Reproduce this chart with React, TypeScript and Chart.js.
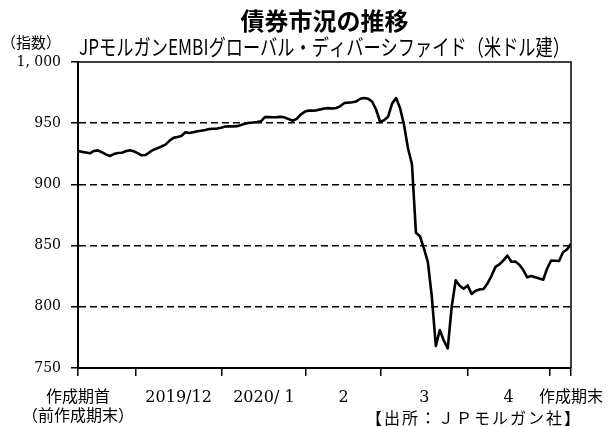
import React, { useEffect, useRef } from 'react';
import { Chart, registerables } from 'chart.js';

Chart.register(...registerables);

const titleText = '債券市況の推移';
const subtitleText = 'JPモルガンEMBIグローバル・ディバーシファイド（米ドル建）';
const unitText = '（指数）';
const sourceText = '【出所：ＪＰモルガン社】';

// daily index values (business days), from start of period to end
const indexValues = [
  927.2, 926.6, 926.1, 925.4, 927.3, 927.8, 926.3, 924.5, 923.2, 924.8,
  925.7, 925.9, 927.0, 927.9, 927.1, 925.6, 923.8, 924.0, 926.3, 928.3,
  929.6, 931.0, 932.5, 935.6, 938.0, 938.7, 939.6, 942.6, 942.0, 942.6,
  943.4, 943.9, 944.4, 945.2, 945.5, 945.6, 946.3, 947.3, 947.4, 947.4,
  947.6, 948.6, 949.6, 950.3, 950.6, 951.0, 951.5, 955.0, 955.1, 954.9,
  955.0, 955.2, 954.6, 953.3, 952.0, 953.5, 957.0, 959.3, 960.4, 960.3,
  960.5, 961.3, 962.0, 962.3, 962.0, 962.4, 964.0, 966.5, 966.8, 967.1,
  967.8, 970.0, 970.6, 970.0, 967.5, 961.0, 951.0, 952.5, 955.3, 966.0,
  970.5, 962.4, 948.6, 929.5, 916.5, 860.4, 857.7, 847.8, 836.5, 808.0,
  768.0, 781.0, 772.5, 766.0, 800.3, 821.7, 817.2, 814.8, 817.5, 810.5,
  813.2, 814.2, 814.5, 819.1, 825.3, 832.6, 834.7, 838.0, 841.8, 836.8,
  837.0, 834.4, 830.0, 824.1, 825.1, 824.1, 823.1, 822.1, 831.3, 837.8,
  837.6, 837.4, 844.6, 846.9, 851.5,
];

// x-axis: month boundaries (tick marks) and label positions, in business-day index units
const monthBoundaries = [0, 14.4, 36.2, 57.3, 76.2, 98, 118.6, 124];
const xLabelPositions = [0, 25.3, 46.75, 66.8, 87.1, 108.3, 124];
const xLabels: (string | string[])[] = [
  ['作成期首', '（前作成期末）'],
  '2019/12',
  '2020/ 1',
  '2',
  '3',
  '4',
  '作成期末',
];

const yTicks = [750, 800, 850, 900, 950, 1000];
const yTickLabels = ['750', '800', '850', '900', '950', '1, 000'];

const xAllTicks = Array.from(new Set([...monthBoundaries, ...xLabelPositions])).sort((a, b) => a - b);

const textPlugin = {
  id: 'texts',
  afterDraw(chart: any) {
    const { ctx, chartArea } = chart;
    const cx = (chartArea.left + chartArea.right) / 2;
    ctx.save();
    ctx.strokeStyle = '#000';
    ctx.lineWidth = 1.5;
    ctx.beginPath();
    ctx.moveTo(chartArea.left, chartArea.top);
    ctx.lineTo(chartArea.right, chartArea.top);
    ctx.lineTo(chartArea.right, chartArea.bottom);
    ctx.stroke();

    ctx.fillStyle = '#000';
    ctx.textBaseline = 'middle';
    ctx.textAlign = 'center';
    ctx.font = 'bold 24px "Noto Sans CJK JP"';
    ctx.fillText(titleText, cx, 21);

    ctx.save();
    ctx.font = '22px "Noto Sans CJK JP"';
    const w = ctx.measureText(subtitleText).width;
    const target = chartArea.right - chartArea.left - 2;
    ctx.translate(cx, 47);
    ctx.scale(target / w, 1);
    ctx.fillText(subtitleText, 0, 0);
    ctx.restore();

    ctx.textAlign = 'left';
    ctx.font = '15px "Noto Sans CJK JP"';
    ctx.fillText(unitText, 1, 42);

    ctx.textAlign = 'right';
    ctx.font = '16px "Noto Sans CJK JP"';
    (ctx as any).letterSpacing = '2px';
    ctx.fillText(sourceText, 582, 418);
    ctx.restore();
  },
};

export default function App() {
  const ref = useRef<HTMLCanvasElement | null>(null);
  useEffect(() => {
    if (!ref.current) return;
    const chart = new Chart(ref.current, {
      type: 'line',
      data: {
        datasets: [
          {
            data: indexValues.map((v, i) => ({ x: i, y: v })),
            borderColor: '#000',
            borderWidth: 2.6,
            pointRadius: 0,
            tension: 0,
            fill: false,
            borderJoinStyle: 'round',
          },
        ],
      },
      options: {
        animation: false,
        responsive: true,
        maintainAspectRatio: false,
        layout: { padding: { left: 0, right: 38, top: 62, bottom: 0 } },
        plugins: { legend: { display: false }, tooltip: { enabled: false }, title: { display: false } },
        scales: {
          x: {
            type: 'linear',
            min: 0,
            max: indexValues.length - 1,
            afterBuildTicks: (scale: any) => {
              scale.ticks = xAllTicks.map((v) => ({ value: v }));
            },
            afterFit: (scale: any) => {
              scale.height = 59;
              scale.paddingLeft = 0;
              scale.paddingRight = 0;
            },
            ticks: {
              autoSkip: false,
              maxRotation: 0,
              minRotation: 0,
              padding: 12,
              color: '#000',
              font: { family: '"DejaVu Serif", "Noto Sans CJK JP"', size: 16 },
              callback: (value: any) => {
                const i = xLabelPositions.indexOf(value);
                return i >= 0 ? xLabels[i] : '';
              },
            },
            grid: {
              drawOnChartArea: false,
              drawTicks: true,
              tickLength: 8,
              lineWidth: 1.5,
              tickColor: (ctx: any) =>
                ctx.tick && monthBoundaries.indexOf(ctx.tick.value) >= 0 ? '#000' : 'rgba(0,0,0,0)',
            },
            border: { color: '#000', width: 2 },
          },
          y: {
            type: 'linear',
            min: 750,
            max: 1000,
            afterBuildTicks: (scale: any) => {
              scale.ticks = yTicks.map((v) => ({ value: v }));
            },
            afterFit: (scale: any) => {
              scale.width = 78;
              scale.paddingTop = 0;
              scale.paddingBottom = 0;
            },
            ticks: {
              padding: 10,
              color: '#000',
              font: { family: '"DejaVu Serif", "Noto Sans CJK JP"', size: 14 },
              callback: (value: any) => {
                const i = yTicks.indexOf(value);
                return i >= 0 ? yTickLabels[i] : '';
              },
            },
            grid: {
              color: (ctx: any) =>
                ctx.tick && (ctx.tick.value === 750 || ctx.tick.value === 1000) ? 'rgba(0,0,0,0)' : '#000',
              lineWidth: 1.5,
              tickColor: '#000',
              tickLength: 7,
            },
            border: { color: '#000', width: 2, dash: [7, 4] },
          },
        },
      },
      plugins: [textPlugin],
    });
    return () => chart.destroy();
  }, []);
  return (
    <div style={{ position: 'fixed', left: 0, top: 0, width: 609, height: 427, background: '#fff' }}>
      <canvas ref={ref} />
    </div>
  );
}
